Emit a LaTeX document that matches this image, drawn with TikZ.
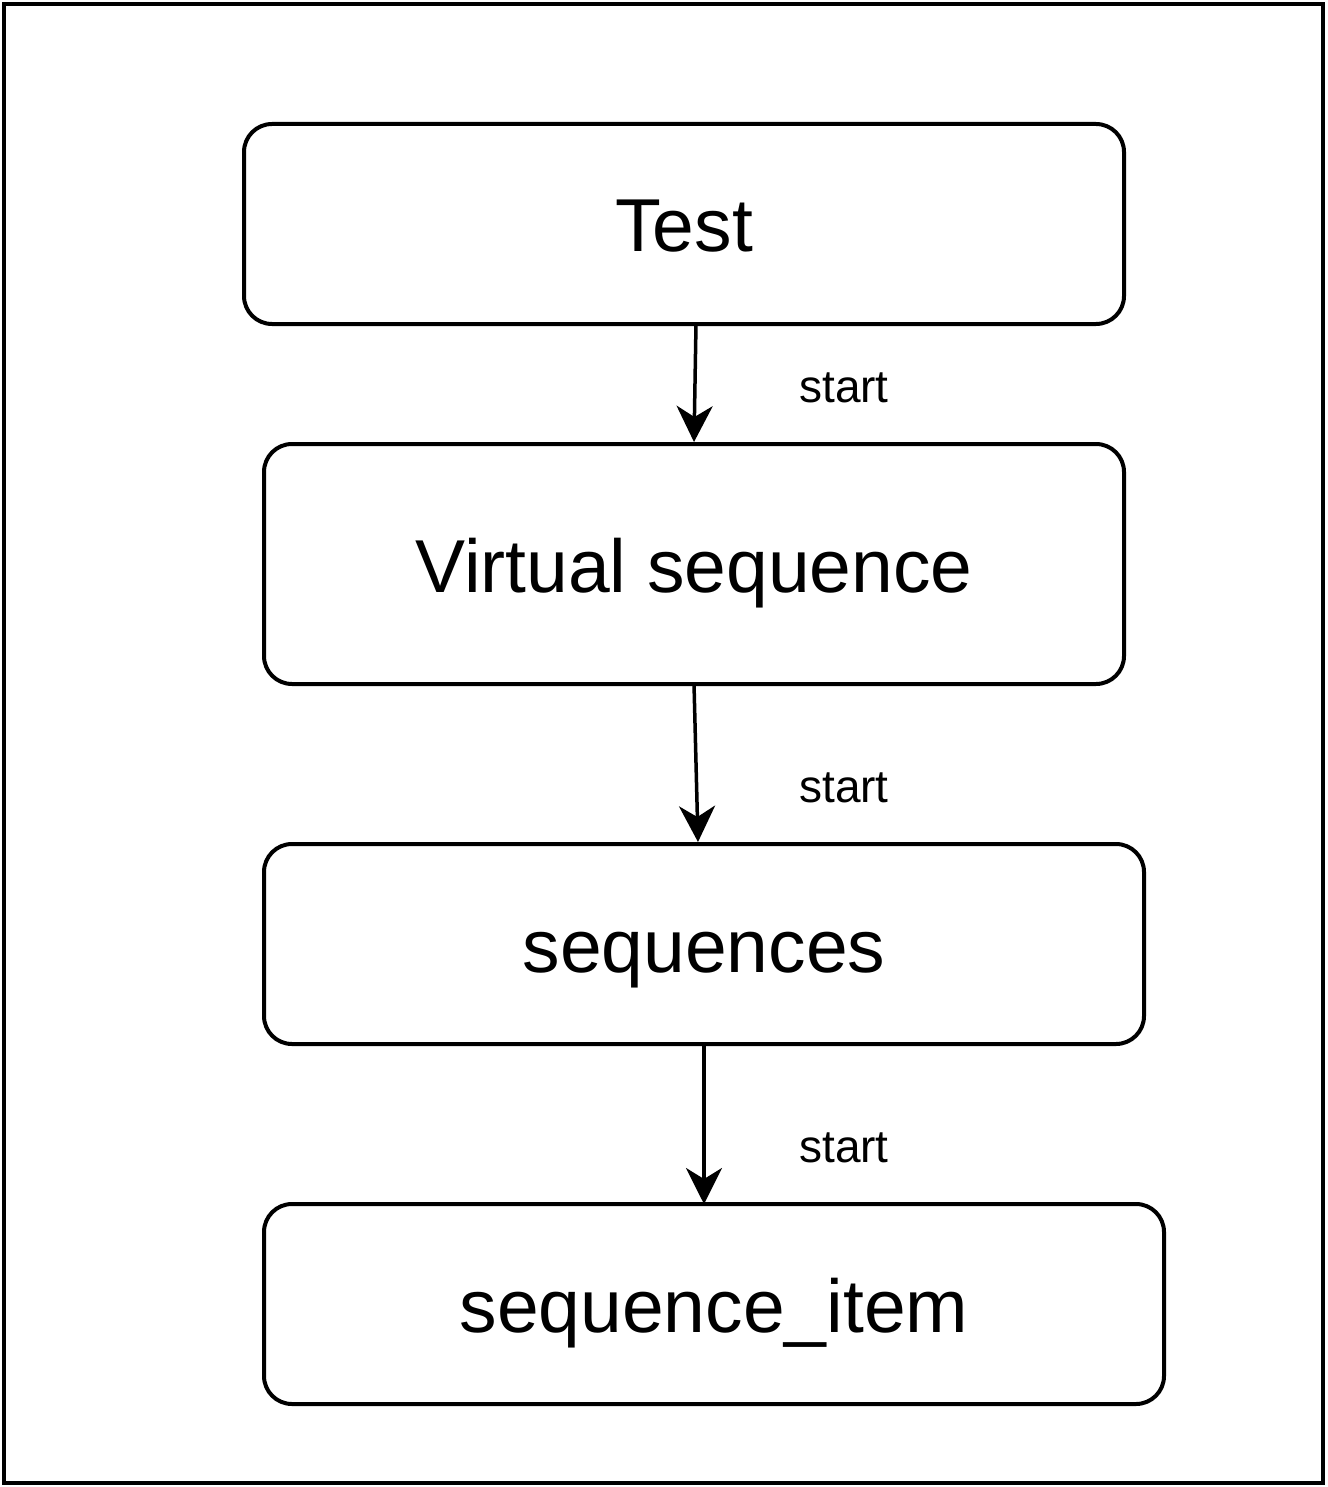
\documentclass[tikz,border=0pt]{standalone}
\usepackage{fontspec}
\setmainfont{Liberation Sans}
\usetikzlibrary{arrows.meta}
\begin{document}
\begin{tikzpicture}[x=1pt,y=-1pt,
  box/.style={draw=black,line width=4pt,rounded corners=28pt,inner sep=0pt},
  boxtext/.style={anchor=base,font=\fontsize{75}{80}\selectfont,inner sep=0pt},
  conn/.style={line width=3.5pt,-{Stealth[length=36pt,width=36pt,inset=11pt]}},
  lbl/.style={font=\fontsize{46}{50}\selectfont,inner sep=0pt}]
\useasboundingbox (0,0) rectangle (1327,1487);
\draw[line width=4pt] (4,4) rectangle (1323,1483);
\node[box,minimum width=880pt,minimum height=200pt] (test) at (684,224) {};
\node[boxtext] (ttest) at (684,252) {Test};
\node[box,minimum width=860pt,minimum height=240pt] (vseq) at (694,564) {};
\node[boxtext] (tvseq) at (694,592) {Virtual sequence};
\node[box,minimum width=880pt,minimum height=200pt] (seqs) at (704,944) {};
\node[boxtext] (tseqs) at (704,972) {sequences};
\node[box,minimum width=900pt,minimum height=200pt] (item) at (714,1304) {};
\node[boxtext] (titem) at (714,1332) {sequence\_item};
\coordinate (a1s) at (696,324);
\coordinate (a1e) at (694,442);
\coordinate (a2s) at (694,684);
\coordinate (a2e) at (698,842);
\draw[conn] (a1s) -- (a1e);
\draw[conn] (a2s) -- (a2e);
\draw[conn] (seqs.south) -- ([yshift=-2pt]seqs.south |- item.north);
\node[lbl] (l1) at (844,388) {start};
\node[lbl] (l2) at (844,788) {start};
\node[lbl] (l3) at (844,1148) {start};
\end{tikzpicture}
\end{document}
